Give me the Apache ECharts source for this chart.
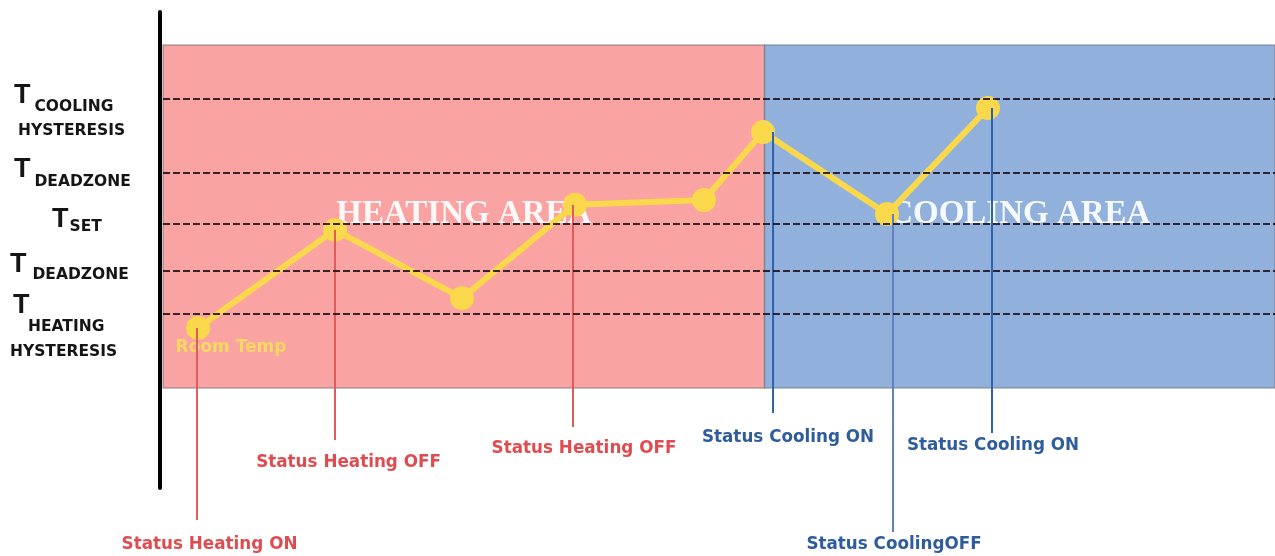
<!DOCTYPE html>
<html>
<head>
<meta charset="utf-8">
<script src="https://cdn.jsdelivr.net/npm/echarts@6/dist/echarts.min.js"></script>
<style>
  html, body { margin: 0; padding: 0; background: #ffffff; }
  #chart { width: 1275px; height: 556px; }
</style>
</head>
<body>
<div id="chart"></div>
<script>
// ---------------- data ----------------
const timeMin = [3.15, 15.47, 26.89, 37.05, 48.65, 53.96, 65.11, 74.19];
const roomTemp = [17.5, 46.1, 26.2, 53.4, 54.8, 74.6, 50.7, 81.6];
const thresholdValues = [84.3, 62.7, 47.8, 34.1, 21.6];
const thresholdNames = ['COOLING HYSTERESIS', 'DEADZONE', 'SET', 'DEADZONE', 'HEATING HYSTERESIS'];
const zoneSplit = 54.1;
const zoneNames = ['HEATING AREA', 'COOLING AREA'];
const statusPoint = [0, 1, 3, 5, 6, 7];
const statusText = ['Status Heating ON', 'Status Heating OFF', 'Status Heating OFF',
                    'Status Cooling ON', 'Status CoolingOFF', 'Status Cooling ON'];
const statusMode = ['heating', 'heating', 'heating', 'cooling', 'cooling', 'cooling'];

// ---------------- layout / style ----------------
const X_MIN = 0, X_MAX = 100, Y_MIN = 0, Y_MAX = 100;
const lineDx   = [-1, 0, -2, 10, 6, 4];        // px shift of drop line from point
const dropBelow = [132, 52, 39, 25, 144, 45];  // px below plot bottom where drop line ends
const textGap  = [25, 23, 22, 25, 13, 13];     // px from line end to label centre
const textDx   = [12.5, 13.5, 11, 15, 1, 1];   // px from line to label centre
const modeColor = { heating: '#E04B50', cooling: '#2E5C9C' };
const lineColor = ['#E25A5E', '#E25A5E', '#E25A5E', '#2D62B0', '#5F82BD', '#2D62B0'];

const SUB = { fontFamily: 'DejaVu Sans', fontWeight: 'bold', fontSize: 15.5, color: '#151515' };
const BIG = { fontFamily: 'Liberation Sans', fontWeight: 'bold', fontSize: 27, lineHeight: 26, verticalAlign: 'top', color: '#151515' };
const S = (extra) => Object.assign({}, SUB, extra);
const B = (extra) => Object.assign({}, BIG, extra);

function yLabel(v) {
  let i = 0, best = Infinity;
  thresholdValues.forEach((t, k) => { const d = Math.abs(t - v); if (d < best) { best = d; i = k; } });
  const w = thresholdNames[i].split(' ');
  switch (i) {
    case 0: return '{sp35| }\n{tA|T}{s0|' + w[0] + '}\n{h0|' + w[1] + '}';
    case 1: return '{tA|T}{s1|' + w[0] + '}';
    case 2: return '{tC|T}{s2|' + w[0] + '}';
    case 3: return '{tD|T}{s3|' + w[0] + '}';
    default: return '{sp32| }\n{tE|T}\n{h4a|' + w[0] + '}\n{h4b|' + w[1] + '}';
  }
}

const labelRich = {
  sp35: { fontSize: 1, lineHeight: 35 },
  sp32: { fontSize: 1, lineHeight: 32 },
  tA: B({ padding: [0, 0, 0, 4] }),
  tC: B({ padding: [0, 0, 0, 42] }),
  tD: B({ padding: [0, 0, 0, 0] }),
  tE: B({ padding: [0, 0, 0, 3] }),
  s0: S({ lineHeight: 30, verticalAlign: 'top', padding: [17, 0, 0, 4] }),
  s1: S({ lineHeight: 34, verticalAlign: 'top', padding: [18, 0, 0, 4] }),
  s2: S({ lineHeight: 36, verticalAlign: 'top', padding: [13, 0, 0, 1] }),
  s3: S({ lineHeight: 40, verticalAlign: 'top', padding: [16, 0, 0, 6] }),
  h0: S({ lineHeight: 39, padding: [0, 0, 0, 8] }),
  h4a: S({ lineHeight: 19, padding: [0, 0, 0, 18] }),
  h4b: S({ lineHeight: 31, padding: [0, 0, 0, 0] })
};

function labelAxis(values) {
  return {
    type: 'value', gridIndex: 0, min: Y_MIN, max: Y_MAX, position: 'left', offset: 0,
    axisLine: { show: false }, axisTick: { show: false }, splitLine: { show: false },
    axisLabel: {
      customValues: values,
      formatter: yLabel,
      showMinLabel: true, showMaxLabel: true, hideOverlap: false,
      align: 'left', margin: 153, color: '#151515',
      rich: labelRich
    }
  };
}

const chart = echarts.init(document.getElementById('chart'));
chart.setOption({
  animation: false,
  backgroundColor: '#ffffff',
  grid: [
    { left: 163, right: 0, top: 45, bottom: 168 },
    { left: 160, top: 12, width: 1, height: 476 }
  ],
  xAxis: [
    { type: 'value', gridIndex: 0, min: X_MIN, max: X_MAX, show: false },
    { type: 'value', gridIndex: 1, min: 0, max: 1, show: false }
  ],
  yAxis: [
    labelAxis(thresholdValues.filter((_, i) => i % 2 === 0)),
    labelAxis(thresholdValues.filter((_, i) => i % 2 === 1)),
    {
      type: 'value', gridIndex: 1, min: 0, max: 1,
      axisLine: { show: true, lineStyle: { color: '#000000', width: 4 } },
      axisTick: { show: false }, axisLabel: { show: false }, splitLine: { show: false }
    }
  ],
  series: [
    {
      name: 'zones', type: 'line', data: [], z: 1, silent: true,
      markArea: {
        silent: true,
        label: {
          show: true, position: 'inside', offset: [0, -2],
          color: 'rgba(255,255,255,0.92)',
          fontFamily: 'Liberation Serif', fontWeight: 'bold', fontSize: 33
        },
        itemStyle: { borderColor: 'rgba(110,110,120,0.55)', borderWidth: 1.5 },
        data: [
          [{ name: zoneNames[0], xAxis: X_MIN, yAxis: Y_MIN, itemStyle: { color: '#F9A3A2' } }, { xAxis: zoneSplit, yAxis: Y_MAX }],
          [{ name: zoneNames[1], xAxis: zoneSplit, yAxis: Y_MIN, itemStyle: { color: '#91B1DC' } }, { xAxis: X_MAX, yAxis: Y_MAX }]
        ]
      }
    },
    {
      name: 'thresholds', type: 'line', data: [], z: 2, silent: true,
      markLine: {
        silent: true, symbol: ['none', 'none'],
        label: { show: false },
        lineStyle: { type: [7, 3], width: 2, color: 'rgba(25,12,22,0.85)' },
        emphasis: { disabled: true },
        data: thresholdValues.map(v => ({ yAxis: v }))
      }
    },
    {
      name: 'Room Temp', type: 'line', z: 3, silent: true,
      symbol: 'circle', symbolSize: 24,
      lineStyle: { color: '#F9D84C', width: 6 },
      itemStyle: { color: '#F9D84C' },
      data: timeMin.map((t, i) => i === 0 ? {
        value: [t, roomTemp[i]],
        label: {
          show: true, formatter: '{a}', position: 'bottom', offset: [33, -6],
          color: '#F6D862', fontFamily: 'DejaVu Sans', fontWeight: 'bold', fontSize: 17
        }
      } : [t, roomTemp[i]])
    },
    {
      name: 'status', type: 'custom', z: 4, silent: true,
      data: statusPoint.map(k => [timeMin[k], roomTemp[k]]),
      renderItem: function (params, api) {
        const i = params.dataIndex;
        const p = api.coord([api.value(0), api.value(1)]);
        const bottom = api.coord([api.value(0), Y_MIN])[1];
        const lx = p[0] + lineDx[i];
        const endY = bottom + dropBelow[i];
        return {
          type: 'group',
          children: [
            { type: 'line', shape: { x1: lx, y1: p[1], x2: lx, y2: endY },
              style: { stroke: lineColor[i], lineWidth: 2 } },
            { type: 'text',
              style: { text: statusText[i], x: lx + textDx[i], y: endY + textGap[i],
                       align: 'center', verticalAlign: 'middle',
                       fill: modeColor[statusMode[i]],
                       fontFamily: 'DejaVu Sans', fontWeight: 'bold', fontSize: 16.8 } }
          ]
        };
      }
    }
  ]
});
</script>
</body>
</html>
